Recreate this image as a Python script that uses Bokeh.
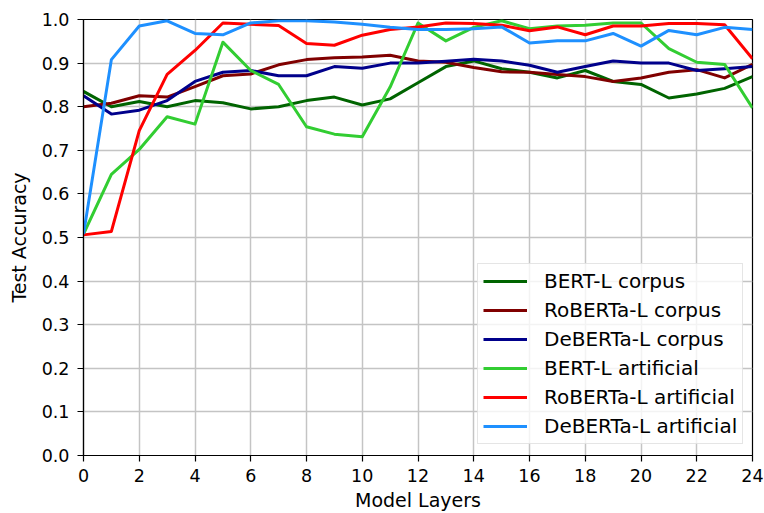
from bokeh.plotting import figure
from bokeh.models import FixedTicker, PrintfTickFormatter, Legend, LegendItem, Range1d
from bokeh.embed import file_html
from bokeh.resources import INLINE

layers = list(range(25))
bert_corpus = [0.835, 0.800, 0.812, 0.800, 0.814, 0.809, 0.795, 0.800, 0.814, 0.822, 0.804, 0.818, 0.855,
               0.892, 0.905, 0.887, 0.879, 0.866, 0.883, 0.858, 0.851, 0.820, 0.829, 0.842, 0.869]
roberta_corpus = [0.800, 0.808, 0.825, 0.822, 0.846, 0.871, 0.875, 0.896, 0.908, 0.912, 0.914, 0.918, 0.905,
                  0.902, 0.890, 0.880, 0.879, 0.874, 0.869, 0.858, 0.866, 0.879, 0.885, 0.866, 0.897]
deberta_corpus = [0.825, 0.783, 0.792, 0.814, 0.858, 0.879, 0.883, 0.871, 0.871, 0.892, 0.888, 0.900, 0.900,
                  0.904, 0.909, 0.905, 0.895, 0.879, 0.892, 0.905, 0.900, 0.900, 0.883, 0.887, 0.892]
bert_art = [0.508, 0.645, 0.702, 0.777, 0.760, 0.948, 0.883, 0.851, 0.754, 0.737, 0.731, 0.845, 0.992,
            0.951, 0.982, 0.997, 0.979, 0.985, 0.987, 0.992, 0.992, 0.933, 0.902, 0.897, 0.797]
roberta_art = [0.506, 0.514, 0.745, 0.874, 0.929, 0.992, 0.989, 0.986, 0.945, 0.941, 0.964, 0.977, 0.983,
               0.992, 0.991, 0.987, 0.974, 0.983, 0.965, 0.985, 0.985, 0.991, 0.991, 0.988, 0.910]
deberta_art = [0.508, 0.908, 0.985, 0.997, 0.968, 0.965, 0.992, 0.997, 0.997, 0.994, 0.989, 0.982, 0.977,
               0.977, 0.979, 0.983, 0.946, 0.951, 0.951, 0.968, 0.939, 0.975, 0.965, 0.982, 0.977]

series_names = ["BERT-L corpus", "RoBERTa-L corpus", "DeBERTa-L corpus",
                "BERT-L artificial", "RoBERTa-L artificial", "DeBERTa-L artificial"]
series_values = [bert_corpus, roberta_corpus, deberta_corpus, bert_art, roberta_art, deberta_art]
series_colors = ["#006400", "#800000", "#00008b", "#32cd32", "#ff0000", "#1e90ff"]

x_ticks = list(range(0, 25, 2))
y_ticks = [i / 10 for i in range(11)]

FONT = "DejaVu Sans"

p = figure(width=764, height=513, output_backend="svg", toolbar_location=None,
           x_range=Range1d(0, 24), y_range=Range1d(0, 1.0),
           min_border_left=83, min_border_right=12, min_border_top=19, min_border_bottom=58)

p.background_fill_color = "white"
p.border_fill_color = "white"
p.outline_line_color = "black"
p.outline_line_width = 1.2

for ax in (p.xaxis[0], p.yaxis[0]):
    ax.axis_line_color = "black"
    ax.axis_line_width = 1.2
    ax.major_tick_line_color = "black"
    ax.major_tick_line_width = 1.2
    ax.major_tick_out = 6
    ax.major_tick_in = 0
    ax.minor_tick_line_color = None
    ax.major_label_text_font = FONT
    ax.major_label_text_font_size = "17.5px"
    ax.major_label_text_color = "black"
    ax.axis_label_text_font = FONT
    ax.axis_label_text_font_size = "19px"
    ax.axis_label_text_font_style = "normal"
    ax.axis_label_text_color = "black"

p.xaxis.ticker = FixedTicker(ticks=x_ticks)
p.yaxis.ticker = FixedTicker(ticks=y_ticks)
p.yaxis.formatter = PrintfTickFormatter(format="%.1f")
p.xaxis.axis_label = "Model Layers"
p.yaxis.axis_label = "Test Accuracy"
p.xaxis.major_label_standoff = 7
p.yaxis.major_label_standoff = 8
p.xaxis.axis_label_standoff = 4
p.yaxis.axis_label_standoff = 9

p.xgrid.ticker = FixedTicker(ticks=x_ticks)
p.ygrid.ticker = FixedTicker(ticks=y_ticks)
p.grid.grid_line_color = "#c4c4c4"
p.grid.grid_line_width = 1.5

items = []
for name, vals, col in zip(series_names, series_values, series_colors):
    r = p.line(layers, vals, line_color=col, line_width=3, line_join="round")
    items.append(LegendItem(label=name, renderers=[r]))

legend = Legend(items=items, location=(394, 11))
legend.label_text_font = FONT
legend.label_text_font_size = "20px"
legend.label_text_color = "black"
legend.glyph_width = 44
legend.glyph_height = 20
legend.label_height = 20
legend.label_standoff = 17
legend.spacing = 5
legend.padding = 5
legend.margin = 0
legend.border_line_color = "#cccccc"
legend.border_line_width = 1.2
legend.background_fill_color = "white"
legend.background_fill_alpha = 0.8
p.add_layout(legend, "center")

open("out.html", "w").write(file_html(p, INLINE))
